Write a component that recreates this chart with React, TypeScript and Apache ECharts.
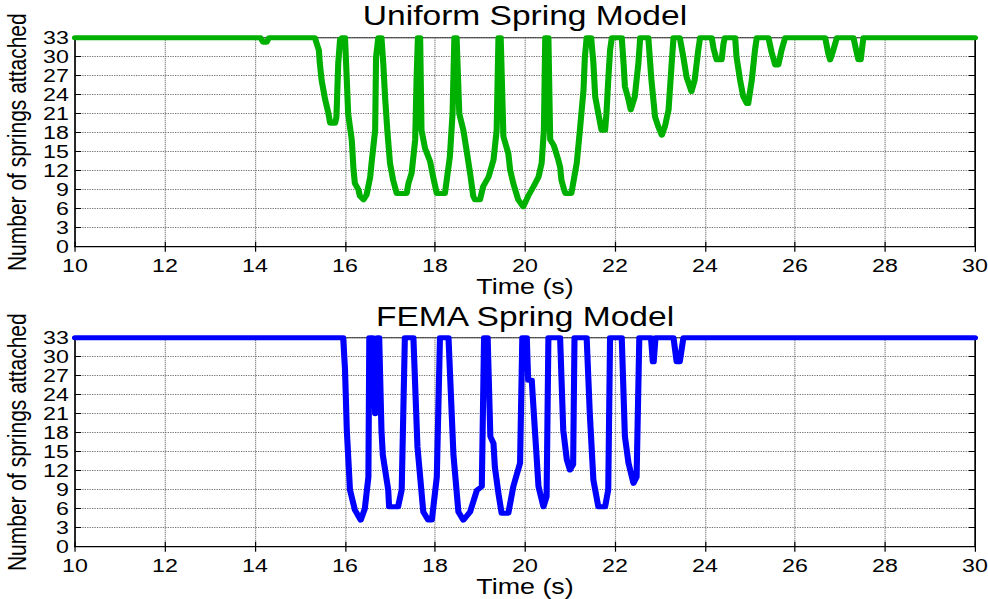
import React, { useEffect, useRef } from "react";
import * as echarts from "echarts";

// ---- data ----
const xTicks = [10, 12, 14, 16, 18, 20, 22, 24, 26, 28, 30];
const yTicks = [0, 3, 6, 9, 12, 15, 18, 21, 24, 27, 30, 33];
const titles = ["Uniform Spring Model", "FEMA Spring Model"];
const xName = "Time (s)";
const yName = "Number of springs attached";

const uniformTime = [
  10, 14.12, 14.18, 14.26, 14.31, 15.33, 15.42, 15.44, 15.48, 15.56, 15.63, 15.67, 15.78, 15.81, 15.85, 15.89, 15.93,
  16.0, 16.04, 16.07, 16.15, 16.19, 16.22, 16.3, 16.33, 16.41, 16.48, 16.56, 16.59, 16.67, 16.69, 16.74,
  16.81, 16.85, 16.89, 16.94, 17.0, 17.07, 17.15, 17.37, 17.41, 17.48, 17.56, 17.59, 17.62,
  17.67, 17.7, 17.78, 17.89, 17.96, 18.04, 18.22, 18.26, 18.33, 18.39, 18.43,
  18.48, 18.54, 18.63, 18.7, 18.78, 18.85, 18.89, 19.0, 19.07, 19.19, 19.3, 19.37, 19.41,
  19.46, 19.52, 19.63, 19.67, 19.74, 19.85, 19.96, 20.07, 20.19, 20.3, 20.37, 20.42, 20.45,
  20.52, 20.56, 20.64, 20.74, 20.78, 20.81, 20.87, 20.9, 21.03, 21.07, 21.15, 21.22, 21.3, 21.33, 21.37,
  21.47, 21.52, 21.56, 21.63, 21.7, 21.78, 21.81, 21.85, 21.89, 21.93,
  22.15, 22.19, 22.22, 22.3, 22.35, 22.44, 22.52, 22.56,
  22.74, 22.81, 22.89, 22.96, 23.04, 23.11, 23.19, 23.26, 23.3,
  23.44, 23.52, 23.59, 23.7, 23.77, 23.85, 23.89,
  24.15, 24.19, 24.26, 24.37, 24.41, 24.44,
  24.67, 24.7, 24.78, 24.85, 24.93, 24.96, 25.04, 25.11, 25.15,
  25.41, 25.48, 25.56, 25.63, 25.7, 25.78,
  26.67, 26.74, 26.78, 26.85, 26.93,
  27.3, 27.36, 27.41, 27.46, 27.52, 30,
];
const uniformSprings = [
  33, 33, 32.3, 32.3, 33, 33, 31, 29, 26.3, 23.2, 21.1, 19.5, 19.5, 20.5, 29, 32.7, 33,
  33, 26.3, 21, 16.9, 12.1, 10, 9, 8, 7.4, 8.2, 11, 13.2, 18.4, 29.9, 33,
  33, 29, 23.7, 18.4, 13.2, 10.5, 8.4, 8.4, 10, 11.6, 16.9, 26.3, 33,
  33, 18.4, 15.5, 13.5, 11, 8.4, 8.4, 10.5, 14.2, 21, 33,
  33, 21, 18.4, 15.3, 11.6, 8, 7.4, 7.4, 9.5, 11, 13.7, 18.4, 33,
  33, 17.4, 14.7, 12.1, 10, 7.4, 6.3, 8, 9.5, 11, 13.2, 18.4, 33,
  33, 16.9, 16, 13.7, 12.6, 10.5, 9, 8.4, 8.4, 10, 13.2, 18.4, 24.7, 29.9, 33,
  33, 29, 23.7, 21, 18.4, 18.4, 21, 26.3, 31, 33,
  33, 29, 25.3, 23.2, 21.6, 23.7, 29, 33,
  33, 26.3, 20.5, 19, 17.6, 19, 21.6, 29, 33,
  33, 29.9, 26.8, 24.5, 26.3, 31, 33,
  33, 31.3, 29.5, 29.5, 32, 33,
  33, 30, 26.3, 23.7, 22.6, 22.6, 26.3, 31, 33,
  33, 30.7, 28.7, 28.7, 31, 33,
  33, 30.5, 29.5, 31, 33,
  33, 31, 29.5, 29.5, 33, 33,
];

const femaTime = [
  10, 15.96, 16.0, 16.04, 16.11, 16.22, 16.35, 16.44, 16.52, 16.54,
  16.62, 16.67, 16.72, 16.76, 16.81, 16.84, 16.96, 16.98, 17.18, 17.26, 17.33,
  17.52, 17.61, 17.74, 17.85, 17.93, 18.04, 18.11,
  18.3, 18.41, 18.52, 18.63, 18.78, 18.93, 19.04, 19.09,
  19.17, 19.23, 19.3, 19.33, 19.41, 19.48, 19.63, 19.74, 19.89, 19.94,
  20.04, 20.07, 20.15, 20.22, 20.3, 20.41, 20.48, 20.52,
  20.78, 20.85, 20.93, 21.0, 21.07, 21.1,
  21.37, 21.44, 21.52, 21.63, 21.78, 21.85, 21.89,
  22.15, 22.22, 22.3, 22.41, 22.48, 22.54,
  22.8, 22.84, 22.86, 22.9,
  23.3, 23.37, 23.44, 23.52, 30,
];
const femaSprings = [
  33, 33, 28, 18.4, 9, 5.8, 4.2, 6, 11, 33,
  33, 21, 33, 33, 18.4, 14.5, 9, 6.3, 6.3, 9, 33,
  33, 15.8, 5.5, 4.2, 4.2, 11, 33,
  33, 14.5, 5.5, 4.2, 5.5, 8.9, 9.5, 33,
  33, 17.4, 16.3, 12.6, 8.4, 5.3, 5.3, 9.5, 13.2, 33,
  33, 26.3, 26.3, 18.4, 9.5, 6.3, 7.9, 33,
  33, 18.4, 13.7, 12.1, 13, 33,
  33, 21, 10.5, 6.3, 6.3, 9, 33,
  33, 17.4, 13.2, 10, 11, 33,
  33, 29.2, 29.2, 33,
  33, 29.2, 29.2, 33, 33,
];

const STRETCH = 1.22;
const FONT = "'Liberation Sans', Arial, Helvetica, sans-serif";

export default function App() {
  const ref = useRef<HTMLDivElement>(null);
  useEffect(() => {
    if (!ref.current) return;
    const chart = echarts.init(ref.current, undefined, { renderer: "svg" });
    const left = 75 / STRETCH;
    const gw = 900 / STRETCH;
    const tops = [37.7, 337.7];
    const gh = 209;

    const grids = tops.map((t) => ({
      left,
      top: t,
      width: gw,
      height: gh,
      show: true,
      borderColor: "#000",
      borderWidth: 1,
      backgroundColor: "#fff",
      containLabel: false,
      outerBoundsMode: "none",
    }));

    const xAxes: any[] = [];
    const yAxes: any[] = [];
    [0, 1].forEach((g) => {
      xAxes.push({
        gridIndex: g,
        type: "value",
        min: xTicks[0],
        max: xTicks[xTicks.length - 1],
        interval: xTicks[1] - xTicks[0],
        position: "bottom",
        axisLine: { show: true, lineStyle: { color: "#000", width: 1 } },
        axisTick: { show: true, inside: true, length: 5, lineStyle: { color: "#000" } },
        axisLabel: { color: "#000", fontSize: 19, lineHeight: 15, fontFamily: FONT, margin: 11 },
        splitLine: { show: true, lineStyle: { type: "dotted", color: "#6e6e6e", width: 1 } },
        name: xName,
        nameLocation: "middle",
        nameGap: 28,
        nameTextStyle: { color: "#000", fontSize: 22, fontFamily: FONT },
      });
      xAxes.push({
        gridIndex: g,
        type: "value",
        min: xTicks[0],
        max: xTicks[xTicks.length - 1],
        interval: xTicks[1] - xTicks[0],
        position: "top",
        axisLine: { show: true, lineStyle: { color: "#000", width: 1 } },
        axisTick: { show: true, inside: true, length: 5, lineStyle: { color: "#000" } },
        axisLabel: { show: false },
        splitLine: { show: false },
      });
      yAxes.push({
        gridIndex: g,
        type: "value",
        min: yTicks[0],
        max: yTicks[yTicks.length - 1],
        interval: yTicks[1] - yTicks[0],
        position: "left",
        axisLine: { show: true, lineStyle: { color: "#000", width: 1 } },
        axisTick: { show: true, inside: true, length: 5, lineStyle: { color: "#000" } },
        axisLabel: { color: "#000", fontSize: 19, lineHeight: 13, fontFamily: FONT, margin: 5 },
        splitLine: { show: true, lineStyle: { type: "dotted", color: "#6e6e6e", width: 1 } },
        name: yName,
        nameLocation: "middle",
        nameGap: 37,
        nameTextStyle: { color: "#000", fontSize: 21, fontFamily: FONT },
      });
      yAxes.push({
        gridIndex: g,
        type: "value",
        min: yTicks[0],
        max: yTicks[yTicks.length - 1],
        interval: yTicks[1] - yTicks[0],
        position: "right",
        axisLine: { show: true, lineStyle: { color: "#000", width: 1 } },
        axisTick: { show: true, inside: true, length: 5, lineStyle: { color: "#000" } },
        axisLabel: { show: false },
        splitLine: { show: false },
      });
    });

    const mk = (ts: number[], vs: number[]) => ts.map((t, i) => [t, vs[i]]);

    chart.setOption({
      animation: false,
      backgroundColor: "#fff",
      title: titles.map((txt, i) => ({
        text: txt,
        left: left + gw / 2,
        textAlign: "center",
        top: i === 0 ? 1 : 302,
        padding: 0,
        textStyle: { color: "#000", fontSize: 27.5, fontWeight: "normal", fontFamily: FONT },
      })),
      grid: grids,
      xAxis: xAxes,
      yAxis: yAxes,
      series: [
        {
          type: "line",
          xAxisIndex: 0,
          yAxisIndex: 0,
          data: mk(uniformTime, uniformSprings),
          showSymbol: false,
          symbol: "none",
          clip: false,
          lineStyle: { color: "#00b000", width: 5, join: "round", cap: "round" },
          itemStyle: { color: "#00b000" },
          z: 5,
        },
        {
          type: "line",
          xAxisIndex: 2,
          yAxisIndex: 2,
          data: mk(femaTime, femaSprings),
          showSymbol: false,
          symbol: "none",
          clip: false,
          lineStyle: { color: "#0000ff", width: 5, join: "round", cap: "round" },
          itemStyle: { color: "#0000ff" },
          z: 5,
        },
      ],
    });
    return () => chart.dispose();
  }, []);

  return (
    <div
      ref={ref}
      style={{
        position: "absolute",
        left: 0,
        top: 0,
        width: 988 / STRETCH,
        height: 599,
        transform: `scaleX(${STRETCH})`,
        transformOrigin: "0 0",
        background: "#fff",
      }}
    />
  );
}
